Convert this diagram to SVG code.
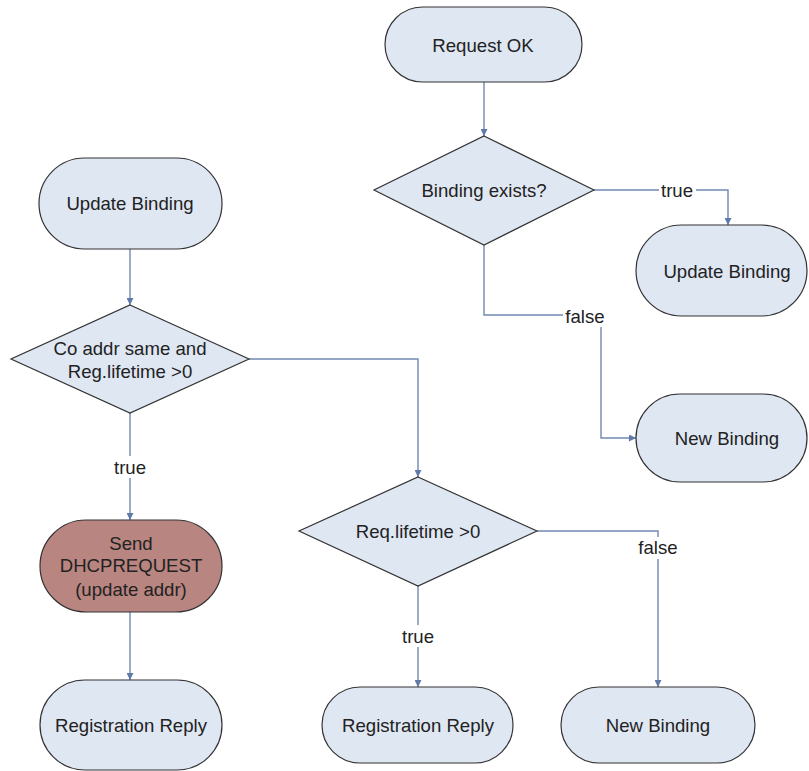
<svg xmlns="http://www.w3.org/2000/svg" width="809" height="771" viewBox="0 0 809 771">
<defs>
<marker id="ah" viewBox="0 0 10 10" refX="10" refY="5" markerWidth="8" markerHeight="7" markerUnits="userSpaceOnUse" orient="auto">
<path d="M0,0 L10,5 L0,10 z" fill="#5f79a8"/>
</marker>
<style>
.n{fill:#dfe7f3;stroke:#333;stroke-width:1.2}
.r{fill:#b98580;stroke:#333;stroke-width:1.2}
.c{fill:none;stroke:#7189b3;stroke-width:1.4;marker-end:url(#ah)}
.t{font-family:"Liberation Sans",Arial,sans-serif;font-size:18.6px;fill:#222;text-anchor:middle;dominant-baseline:central}
.bg{fill:#fff}
</style>
</defs>
<rect width="809" height="771" fill="#fff"/>
<g id="connectors">
<path class="c" d="M484,82 L484,136"/>
<path class="c" d="M593,190 L728,190 L728,225"/>
<path class="c" d="M484,245 L484,315 L601,315 L601,438 L636,438"/>
<path class="c" d="M130,249 L130,305"/>
<path class="c" d="M249,359 L418,359 L418,477"/>
<path class="c" d="M130,413 L130,520"/>
<path class="c" d="M130,612 L130,680"/>
<path class="c" d="M418,585 L418,687"/>
<path class="c" d="M537,531 L658,531 L658,687"/>
<rect class="bg" x="659" y="180" width="37" height="20"/>
<text class="t" x="677" y="190">true</text>
<rect class="bg" x="563" y="305" width="42" height="22"/>
<text class="t" x="585" y="316">false</text>
<rect class="bg" x="111" y="456" width="38" height="22"/>
<text class="t" x="130" y="467">true</text>
<rect class="bg" x="399" y="625" width="38" height="22"/>
<text class="t" x="418" y="636">true</text>
<rect class="bg" x="637" y="537" width="42" height="22"/>
<text class="t" x="658" y="547">false</text>
</g>
<g id="request-ok">
<rect class="n" x="385" y="7" width="197" height="75" rx="37.5"/>
<text class="t" x="483" y="45">Request OK</text>
</g>
<g id="binding-exists">
<polygon class="n" points="484,136 594,190 484,245 374,190"/>
<text class="t" x="484" y="190">Binding exists?</text>
</g>
<g id="update-binding-right">
<rect class="n" x="636" y="225" width="171" height="91" rx="45.5"/>
<text class="t" x="727" y="271">Update Binding</text>
</g>
<g id="new-binding-right">
<rect class="n" x="636" y="394" width="171" height="88" rx="44"/>
<text class="t" x="727" y="438">New Binding</text>
</g>
<g id="update-binding-left">
<rect class="n" x="39" y="158" width="183" height="91" rx="45.5"/>
<text class="t" x="130" y="203">Update Binding</text>
</g>
<g id="co-addr">
<polygon class="n" points="130,305 249,359 130,413 11,359"/>
<text class="t" x="130" y="348">Co addr same and</text>
<text class="t" x="130" y="371">Reg.lifetime &gt;0</text>
</g>
<g id="send-dhcp">
<rect class="r" x="40" y="520" width="182" height="92" rx="46"/>
<text class="t" x="131" y="543">Send</text>
<text class="t" x="131" y="565">DHCPREQUEST</text>
<text class="t" x="131" y="589">(update addr)</text>
</g>
<g id="reg-reply-left">
<rect class="n" x="40" y="680" width="182" height="90" rx="45"/>
<text class="t" x="131" y="725">Registration Reply</text>
</g>
<g id="req-lifetime">
<polygon class="n" points="418,477 537,531 418,586 299,531"/>
<text class="t" x="418" y="531">Req.lifetime &gt;0</text>
</g>
<g id="reg-reply-mid">
<rect class="n" x="322" y="687" width="191" height="76" rx="38"/>
<text class="t" x="418" y="725">Registration Reply</text>
</g>
<g id="new-binding-bottom">
<rect class="n" x="561" y="687" width="194" height="76" rx="38"/>
<text class="t" x="658" y="725">New Binding</text>
</g>
</svg>
